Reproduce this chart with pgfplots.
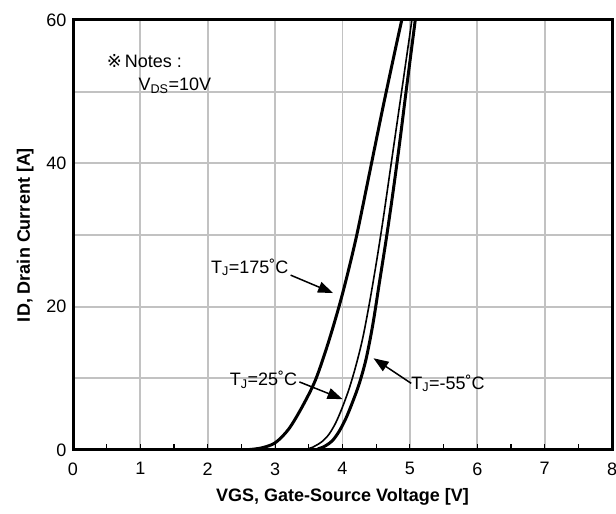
\documentclass[border=0pt]{standalone}
\usepackage{pgfplots}
\pgfplotsset{compat=1.18}
\usetikzlibrary{arrows.meta}
\usepackage{fontspec}
\setmainfont{Liberation Sans}
\newfontfamily\symfont{DejaVu Sans}

\newcommand{\fs}{\fontsize{18bp}{21bp}\selectfont}

\begin{document}
\begin{tikzpicture}
\begin{axis}[
  scale only axis,
  width=539bp, height=430bp,
  xmin=0, xmax=8, ymin=0, ymax=60,
  xtick={0,1,...,8},
  xticklabels={0,1,2,3,4,5,6,7,8},
  ytick={0,10,...,60},
  yticklabels={0,,20,,40,,60},
  minor x tick num=1,
  xtick pos=bottom,
  ytick pos=left,
  tick align=inside,
  major tick length=6bp,
  minor tick length=6bp,
  xtick style={black, line width=1.2bp},
  ytick style={draw=none},
  grid=major,
  major grid style={draw=black!24, line width=1.8bp},
  axis line style={line width=3bp},
  /pgf/number format/assume math mode=true,
  ticklabel style={font=\fs},
  xticklabel style={yshift=-9bp},
  yticklabel style={xshift=-3bp},
  xlabel={\bfseries VGS, Gate-Source Voltage [V]},
  ylabel={\bfseries ID, Drain Current [A]},
  label style={font=\fs},
  xlabel style={yshift=-6bp},
  ylabel style={yshift=6bp},
  clip=true,
]
% T_J = 175 C
\addplot[black, line width=3bp, smooth, tension=0.5] coordinates {
  (0,0) (2.4,0) (2.6,0.05) (2.8,0.3) (3.0,1.0) (3.2,2.9) (3.4,6.0)
  (3.6,9.8) (3.8,15.3) (4.0,21.8) (4.2,29.5) (4.4,38.6) (4.6,47.8)
  (4.8,56.6) (4.88,60)
};
% T_J = 25 C
\addplot[black, line width=1.6bp, smooth, tension=0.5] coordinates {
  (0,0) (3.3,0) (3.5,0.2) (3.6,0.6) (3.7,1.2) (3.8,2.2) (3.9,3.8)
  (4.0,6.0) (4.1,8.6) (4.2,11.8) (4.3,15.6) (4.4,20.5) (4.5,26)
  (4.6,32) (4.7,38.5) (4.8,45) (4.9,51.5) (5.03,60)
};
% T_J = -55 C
\addplot[black, line width=3bp, smooth, tension=0.5] coordinates {
  (0,0) (3.45,0) (3.65,0.2) (3.75,0.6) (3.85,1.3) (3.95,2.6) (4.05,4.4)
  (4.15,6.7) (4.25,9.3) (4.35,12.7) (4.45,17.5) (4.55,23.5) (4.65,29.5)
  (4.75,36) (4.85,43) (4.95,50.5) (5.08,60)
};

\node[font=\fs, anchor=west, inner sep=0pt] at (axis cs:0.5,54.3)
  {{\symfont ※}\,Notes :};
\node[font=\fs, anchor=west, inner sep=0pt] at (axis cs:0.97,50.8)
  {V\textsubscript{DS}=10V};

\node[font=\fs, anchor=east, inner sep=0pt] at (axis cs:3.2,25.5)
  {T\textsubscript{J}=175˚C};
\draw[line width=1.5bp, -{Triangle[length=15bp, width=11bp]}]
  (axis cs:3.23,24.4) -- (axis cs:3.86,21.9);

\node[font=\fs, anchor=east, inner sep=0pt] at (axis cs:3.33,9.8)
  {T\textsubscript{J}=25˚C};
\draw[line width=1.5bp, -{Triangle[length=15bp, width=11bp]}]
  (axis cs:3.36,9.5) -- (axis cs:4.0,7.1);

\node[font=\fs, anchor=west, inner sep=0pt] at (axis cs:5.02,9.3)
  {T\textsubscript{J}=-55˚C};
\draw[line width=1.5bp, -{Triangle[length=15bp, width=11bp]}]
  (axis cs:5.02,9.3) -- (axis cs:4.46,12.8);
\end{axis}
\pgfresetboundingbox
\path[use as bounding box] ([xshift=-73bp, yshift=-64bp]current axis.south west)
  rectangle ([xshift=4bp, yshift=20bp]current axis.north east);
\end{tikzpicture}
\end{document}
